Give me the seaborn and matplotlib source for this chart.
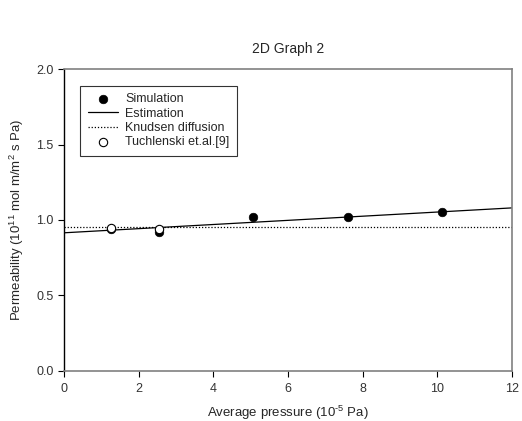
import pandas as pd
import matplotlib
matplotlib.use("Agg")
import matplotlib.pyplot as plt
import seaborn as sns

# data
sim_x = [1.27, 2.55, 5.07, 7.60, 10.13]
sim_y = [0.94, 0.92, 1.02, 1.02, 1.05]
tuch_x = [1.27, 2.55]
tuch_y = [0.945, 0.94]
est_x = [0, 12]
est_y = [0.915, 1.08]
knud_x = [0, 12]
knud_y = [0.955, 0.955]

sns.set_style("ticks")
plt.rcParams['font.family'] = ['Liberation Sans', 'DejaVu Sans']
plt.rcParams['mathtext.default'] = 'regular'

fig = plt.figure(figsize=(5.22, 4.21), dpi=100)
ax = fig.add_axes([0.1226, 0.119, 0.858, 0.717])

sns.lineplot(x=est_x, y=est_y, ax=ax, color='black', lw=0.9,
             label='Estimation', zorder=2)
sns.lineplot(x=knud_x, y=knud_y, ax=ax, color='black', lw=0.9,
             linestyle=(0, (1, 1.5)), label='Knudsen diffusion', zorder=2)
sns.scatterplot(x=sim_x, y=sim_y, ax=ax, color='black', s=38,
                edgecolor='black', label='Simulation', zorder=3)
sns.scatterplot(x=tuch_x, y=tuch_y, ax=ax, color='white', s=36,
                edgecolor='black', linewidth=0.8,
                label='Tuchlenski et.al.[9]', zorder=4)

ax.set_xlim(0, 12)
ax.set_ylim(0, 2.0)
ax.set_xticks([0, 2, 4, 6, 8, 10, 12])
ax.set_yticks([0.0, 0.5, 1.0, 1.5, 2.0])
ax.set_yticklabels(['0.0', '0.5', '1.0', '1.5', '2.0'])
ax.tick_params(labelsize=9, direction='out', length=4, width=0.8,
               colors='black', labelcolor='#333333')
ax.tick_params(axis='x', pad=5)

for side in ['top', 'right', 'bottom']:
    ax.spines[side].set_color('#808080')
    ax.spines[side].set_linewidth(1.2)
ax.spines['left'].set_color('black')
ax.spines['left'].set_linewidth(1.0)

ax.set_xlabel('Average pressure (10$^{\u2010 5}$ Pa)', fontsize=9.5, labelpad=6)
ax.set_ylabel('Permeability (10$^{11}$ mol m/m$^2$ s Pa)', fontsize=9.5,
              labelpad=7)
fig.suptitle('2D Graph 2', x=0.552, y=0.9, fontsize=10)

handles, labels = ax.get_legend_handles_labels()
order = ['Simulation', 'Estimation', 'Knudsen diffusion', 'Tuchlenski et.al.[9]']
hmap = dict(zip(labels, handles))
leg = ax.legend([hmap[k] for k in order], order, loc='upper left',
                bbox_to_anchor=(0.036, 0.944), borderaxespad=0, fontsize=9,
                frameon=True, fancybox=False, edgecolor='black',
                handlelength=2.4, labelspacing=0.18, borderpad=0.6,
                handletextpad=0.6)
leg.get_frame().set_linewidth(0.8)

fig.savefig('out.png', dpi=100)
